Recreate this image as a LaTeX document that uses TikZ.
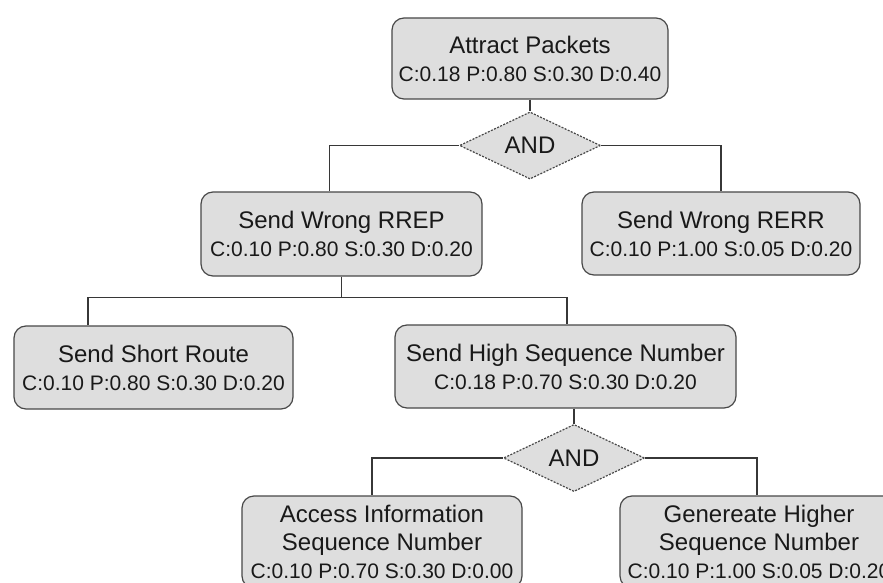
\documentclass[tikz,border=0pt]{standalone}
\usepackage{fontspec}
\setmainfont{Liberation Sans}
\usetikzlibrary{shapes.geometric}
\definecolor{boxfill}{RGB}{222,222,222}
\definecolor{edgegray}{RGB}{72,72,72}
\definecolor{wiregray}{RGB}{55,55,55}
\newcommand{\ttl}{\fontsize{24}{28}\selectfont}
\newcommand{\vals}{\fontsize{21}{28}\selectfont}
\begin{document}
\begin{tikzpicture}[x=1pt,y=-1pt,
  goal/.style n args={2}{draw=edgegray, line width=1.2pt, fill=boxfill,
    rounded corners=12pt, minimum width=#1, minimum height=#2,
    inner sep=0pt, align=center, font=\ttl, text=black!90},
  gate/.style={diamond, draw=edgegray, line width=1.2pt,
    dash pattern=on 2pt off 1.4pt, fill=boxfill, minimum width=141pt,
    minimum height=56pt, inner sep=0pt, font=\ttl, text=black!90},
  wire/.style={draw=wiregray, line width=1.5pt}]
\path[use as bounding box, clip] (0,0) rectangle (883,583);
\fill[white] (0,0) rectangle (883,583);

% goals and gates
\node[goal={276pt}{81pt}] (attract) at (530,58.5)
  {Attract Packets\\ \vals C:0.18 P:0.80 S:0.30 D:0.40};
\node[gate] (and1) at (530,145.5) {AND};
\node[goal={281pt}{84pt}] (rrep) at (341.5,234)
  {Send Wrong RREP\\ \vals C:0.10 P:0.80 S:0.30 D:0.20};
\node[goal={278pt}{83pt}] (rerr) at (721,233.5)
  {Send Wrong RERR\\ \vals C:0.10 P:1.00 S:0.05 D:0.20};
\node[goal={279pt}{83pt}] (short) at (153.5,367.5)
  {Send Short Route\\ \vals C:0.10 P:0.80 S:0.30 D:0.20};
\node[goal={341pt}{83pt}] (high) at (565.5,366.5)
  {Send High Sequence Number\\ \vals C:0.18 P:0.70 S:0.30 D:0.20};
\node[gate] (and2) at (574,458) {AND};
\node[goal={280pt}{92pt}] (access) at (382,542)
  {Access Information\\ Sequence Number\\ \vals C:0.10 P:0.70 S:0.30 D:0.00};
\node[goal={278pt}{92pt}] (gen) at (759,542)
  {Genereate Higher\\ Sequence Number\\ \vals C:0.10 P:1.00 S:0.05 D:0.20};

% connectors
\path[wire] (attract.south) -- (and1.north);
\path[wire] (and1.west) -| ([xshift=-12pt]rrep.north);
\path[wire] (and1.east) -| (rerr.north);
\path[wire] (rrep.south) -- ++(0,21) coordinate (bus);
\path[wire] ([xshift=-65.5pt]short.north) |- (bus) -| ([xshift=1.5pt]high.north);
\path[wire] ([xshift=8.5pt]high.south) -- (and2.north);
\path[wire] (and2.west) -| ([xshift=-10pt]access.north);
\path[wire] (and2.east) -| ([xshift=-2pt]gen.north);
\end{tikzpicture}
\end{document}
